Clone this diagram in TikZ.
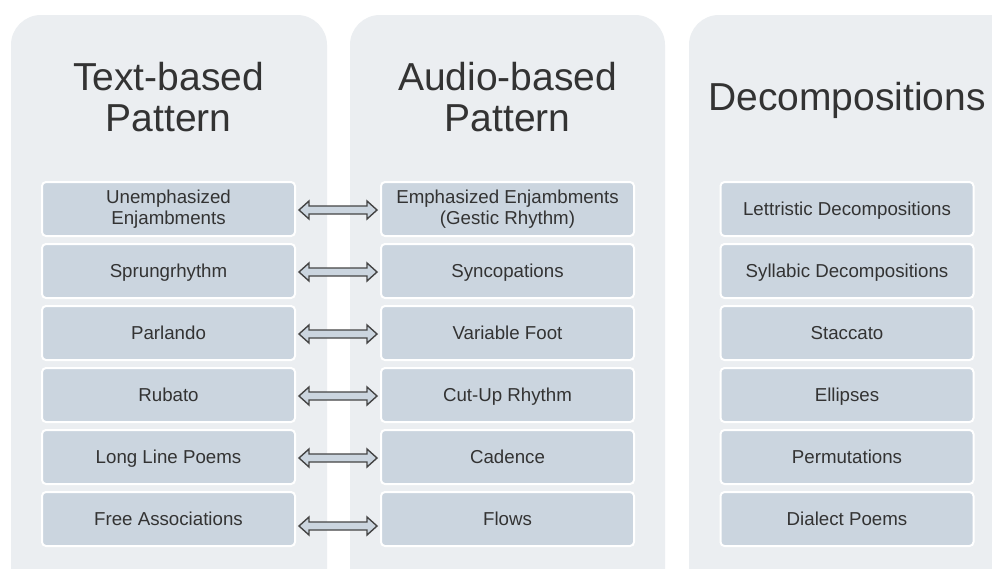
\documentclass[tikz,border=0pt]{standalone}
\usepackage{fontspec}
\setmainfont{Liberation Sans}
\usetikzlibrary{calc}
\definecolor{panelbg}{HTML}{EBEEF1}
\definecolor{itemfill}{HTML}{CBD5DF}
\definecolor{inktext}{HTML}{333333}
\definecolor{arrowline}{HTML}{454545}
\tikzset{
  panel/.style={fill=panelbg, draw=none, rounded corners=30pt},
  heading/.style={text=inktext, align=center, font=\fontsize{39}{41}\selectfont},
  item/.style={fill=itemfill, draw=white, line width=2pt, rounded corners=4pt,
    minimum width=253pt, minimum height=54pt, inner sep=0pt,
    text=inktext, align=center, font=\fontsize{18.7}{20.5}\selectfont},
  oneline/.style={text height=13.4pt, text depth=0pt},
  dblarrow/.style={fill=itemfill, draw=arrowline, line width=1.4pt, line join=miter},
}
% hollow double-headed arrow between two named nodes
\newcommand\linkarrow[3]{%
  \path ($(#1.east)+(3,#3)$) coordinate (#1-s) ($(#2.west)+(-3,#3)$) coordinate (#1-e);
  \draw[dblarrow] (#1-s) -- ++(10,-9) -- ++(0,5) -- ($(#1-e)+(-10,-4)$)
    -- ++(0,-5) -- (#1-e) -- ++(-10,9) -- ++(0,-5) -- ($(#1-s)+(10,4)$)
    -- ++(0,5) -- cycle;}
\begin{document}
\begin{tikzpicture}[x=1pt,y=-1pt]
\useasboundingbox (0,0) rectangle (992,568);
\begin{scope}
  \clip (0,0) rectangle (992,568);
  \fill[white] (0,0) rectangle (992,568);
  \path[panel] (11,15) rectangle (327,620);
  \path[panel] (350,15) rectangle (665,620);
  \path[panel] (689,15) rectangle (1060,620);
\end{scope}

\node[heading] (h1) at (168.5,97.5) {Text-based\\Pattern};
\node[heading] (h2) at (507.5,97.5) {Audio-based\\Pattern};
\node[heading, text height=27.9pt, text depth=0pt] (h3) at (847,97) {Decompositions};

\node[item] (a1) at (168.5,209) {Unemphasized\\Enjambments};
\foreach \name/\txt [count=\i from 1] in {
  a2/Sprungrhythm, a3/Parlando, a4/Rubato, a5/Long Line Poems, a6/Free Associations}
  \node[item, oneline] (\name) at (168.5,209+62*\i) {\txt};
\node[item] (b1) at (507.5,209) {Emphasized Enjambments\\(Gestic Rhythm)};
\foreach \name/\txt [count=\i from 1] in {
  b2/Syncopations, b3/Variable Foot, b4/Cut-Up Rhythm, b5/Cadence, b6/Flows}
  \node[item, oneline] (\name) at (507.5,209+62*\i) {\txt};
\foreach \name/\txt [count=\i from 0] in {
  c1/Lettristic Decompositions, c2/Syllabic Decompositions, c3/Staccato,
  c4/Ellipses, c5/Permutations, c6/Dialect Poems}
  \node[item, oneline] (\name) at (847,209+62*\i) {\txt};

\linkarrow{a1}{b1}{1}
\linkarrow{a2}{b2}{1}
\linkarrow{a3}{b3}{1}
\linkarrow{a4}{b4}{1}
\linkarrow{a5}{b5}{1}
\linkarrow{a6}{b6}{7}
\end{tikzpicture}
\end{document}
